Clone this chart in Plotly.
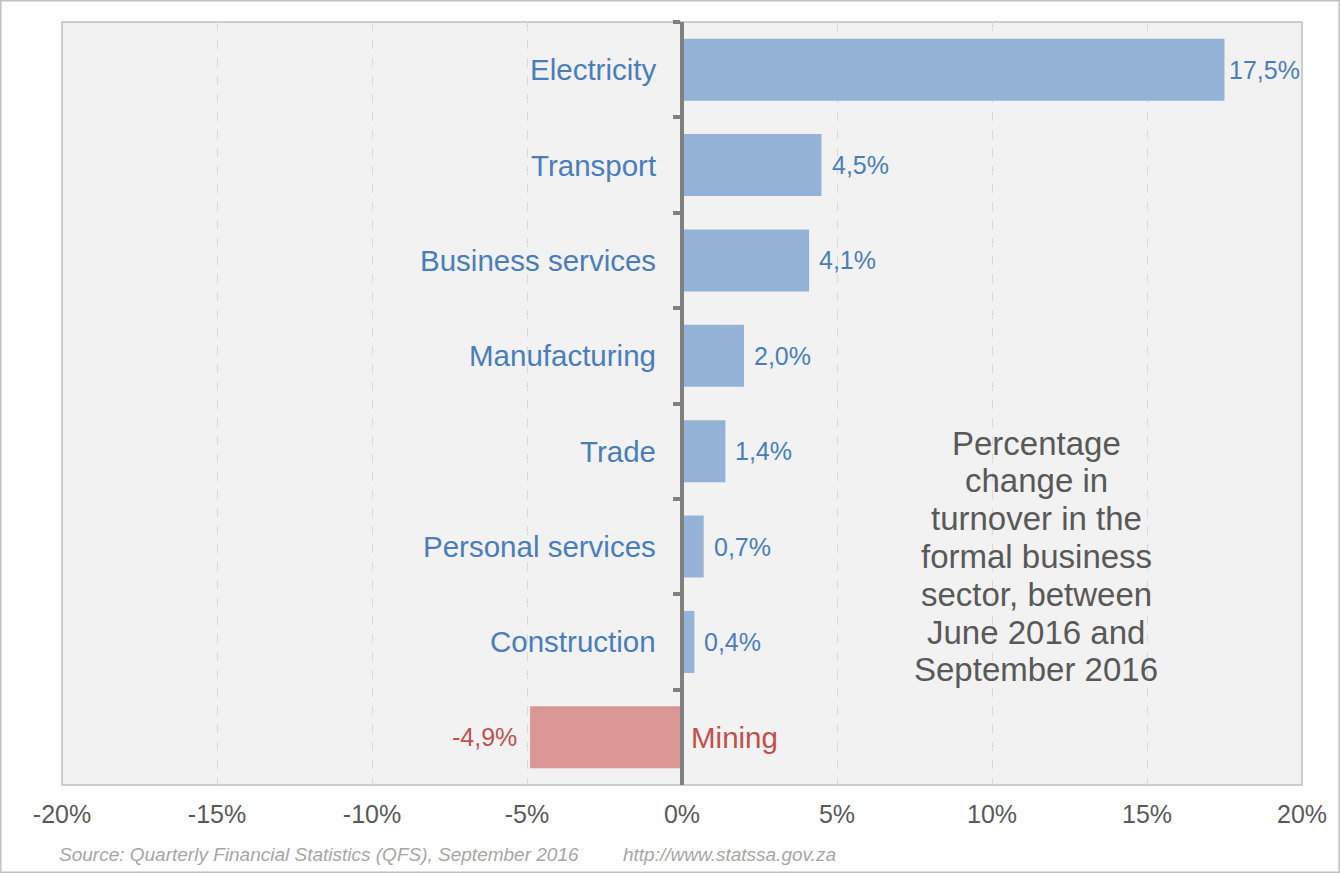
import plotly.graph_objects as go

categories = ["Electricity", "Transport", "Business services", "Manufacturing",
              "Trade", "Personal services", "Construction", "Mining"]
values = [17.5, 4.5, 4.1, 2.0, 1.4, 0.7, 0.4, -4.9]
x_ticks = [-20, -15, -10, -5, 0, 5, 10, 15, 20]
note_lines = ["Percentage", "change in", "turnover in the", "formal business",
              "sector, between", "June 2016 and", "September 2016"]
source_text = "Source: Quarterly Financial Statistics (QFS), September 2016"
url_text = "http://www.statssa.gov.za"

POS_BAR = "#95b3d7"
NEG_BAR = "#da9694"
POS_TXT = "#4a7ebb"
NEG_TXT = "#c0504d"
FONT = "Liberation Sans, Arial, sans-serif"

W, H = 1340, 873
L, R, T, B = 62, 38, 22, 88
PW, PH = W - L - R, H - T - B
X_MIN, X_MAX = -20, 20
PX_PER_UNIT = PW / (X_MAX - X_MIN)

def px_to_py(py):
    return (H - B - py) / PH

def px_to_px(px):
    return (px - L) / PW

bar_colors = [POS_BAR if v >= 0 else NEG_BAR for v in values]
txt_colors = [POS_TXT if v >= 0 else NEG_TXT for v in values]

fig = go.Figure(go.Bar(
    x=values, y=categories, orientation="h",
    marker=dict(color=bar_colors, line=dict(width=0)),
    hoverinfo="skip",
))

annotations = []
for c, v, col in zip(categories, values, txt_colors):
    label = f"{v:.1f}%".replace(".", ",")
    pos = v >= 0
    if pos:
        # keep label inside the plot area: reduce the gap when near the right edge
        room = (X_MAX - v) * PX_PER_UNIT - 75
        shift = max(1, min(8, room))
    else:
        shift = -11
    annotations.append(dict(
        x=v, y=c, xref="x", yref="y", text=label, showarrow=False,
        xanchor="left" if pos else "right", xshift=shift,
        font=dict(family=FONT, size=25, color=col),
    ))
    annotations.append(dict(
        x=0, y=c, xref="x", yref="y", text=c, showarrow=False,
        xanchor="right" if pos else "left", xshift=-24 if pos else 7,
        font=dict(family=FONT, size=29.5, color=col),
    ))

for i, line in enumerate(note_lines):
    annotations.append(dict(
        x=px_to_px(1036), y=px_to_py(443 + i * 37.8), xref="paper", yref="paper",
        text=line, showarrow=False, xanchor="center", yanchor="middle",
        font=dict(family=FONT, size=33, color="#595959"),
    ))

annotations.append(dict(
    x=px_to_px(57), y=px_to_py(855), xref="paper", yref="paper",
    text=source_text, showarrow=False, xanchor="left", yanchor="middle",
    font=dict(family=FONT, size=19, color="#a6a6a6", style="italic"),
))
annotations.append(dict(
    x=px_to_px(621), y=px_to_py(855), xref="paper", yref="paper",
    text=url_text, showarrow=False, xanchor="left", yanchor="middle",
    font=dict(family=FONT, size=19, color="#a6a6a6", style="italic"),
))

shapes = [
    dict(type="rect", xref="paper", yref="paper", x0=0, x1=1, y0=0, y1=1,
         line=dict(color="#bfbfbf", width=1.5), fillcolor="rgba(0,0,0,0)", layer="below"),
    dict(type="rect", xref="paper", yref="paper",
         x0=px_to_px(0.8), x1=px_to_px(W - 0.8), y0=px_to_py(H - 0.8), y1=px_to_py(0.8),
         line=dict(color="#c0c0c0", width=1.5), fillcolor="rgba(0,0,0,0)"),
]

fig.update_layout(
    width=W, height=H,
    margin=dict(l=L, r=R, t=T, b=B),
    paper_bgcolor="white", plot_bgcolor="#f2f2f2",
    bargap=0.35, showlegend=False,
    annotations=annotations, shapes=shapes,
    font=dict(family=FONT),
    xaxis=dict(
        range=[X_MIN, X_MAX], tickvals=x_ticks,
        ticktext=[f"{t}%" for t in x_ticks],
        showgrid=True, gridcolor="#d9d9d9", griddash="dash", gridwidth=1,
        zeroline=False, showline=False, ticks="",
        tickfont=dict(family=FONT, size=25, color="#595959"),
        ticklabelstandoff=12,
        fixedrange=True,
    ),
    yaxis=dict(
        anchor="free", position=0.5, autorange="reversed",
        showline=True, linecolor="#808080", linewidth=3.5,
        ticks="outside", tickson="boundaries", ticklen=7, tickwidth=3.5,
        tickcolor="#808080", showticklabels=False, showgrid=False,
        zeroline=False, fixedrange=True,
    ),
)

fig.write_html(
    "out.html",
    config={"displayModeBar": False},
    post_script="document.body.style.margin='0px';document.body.style.overflow='hidden';",
)
